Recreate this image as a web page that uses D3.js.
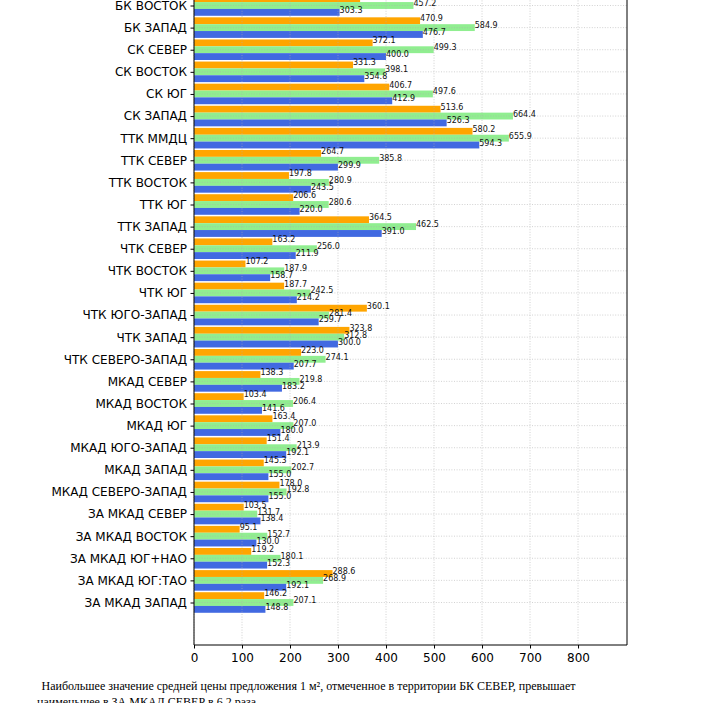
<!DOCTYPE html>
<html>
<head>
<meta charset="utf-8">
<script src="https://cdn.jsdelivr.net/npm/d3@7"></script>
<style>
body { margin: 0; background: #fff; }
svg { display: block; }
</style>
</head>
<body>
<svg width="705" height="703"></svg>
<script>
var svg = d3.select('svg');

var categories = [
	"БК ВОСТОК", "БК ЗАПАД", "СК СЕВЕР", "СК ВОСТОК", "СК ЮГ", "СК ЗАПАД",
	"ТТК ММДЦ", "ТТК СЕВЕР", "ТТК ВОСТОК", "ТТК ЮГ", "ТТК ЗАПАД",
	"ЧТК СЕВЕР", "ЧТК ВОСТОК", "ЧТК ЮГ", "ЧТК ЮГО-ЗАПАД", "ЧТК ЗАПАД", "ЧТК СЕВЕРО-ЗАПАД",
	"МКАД СЕВЕР", "МКАД ВОСТОК", "МКАД ЮГ", "МКАД ЮГО-ЗАПАД", "МКАД ЗАПАД", "МКАД СЕВЕРО-ЗАПАД",
	"ЗА МКАД СЕВЕР", "ЗА МКАД ВОСТОК", "ЗА МКАД ЮГ+НАО", "ЗА МКАД ЮГ:ТАО", "ЗА МКАД ЗАПАД"
]

// three series, drawn top to bottom inside each group
var seriesOrange = [346.0, 470.9, 372.1, 331.3, 406.7, 513.6, 580.2, 264.7, 197.8, 206.6, 364.5,
	163.2, 107.2, 187.7, 360.1, 323.8, 223.0, 138.3, 103.4, 163.4, 151.4, 145.3, 178.0,
	103.5, 95.1, 119.2, 288.6, 146.2]
var seriesGreen = [457.2, 584.9, 499.3, 398.1, 497.6, 664.4, 655.9, 385.8, 280.9, 280.6, 462.5,
	256.0, 187.9, 242.5, 281.4, 312.8, 274.1, 219.8, 206.4, 207.0, 213.9, 202.7, 192.8,
	131.7, 152.7, 180.1, 268.9, 207.1]
var seriesBlue = [303.3, 476.7, 400.0, 354.8, 412.9, 526.3, 594.3, 299.9, 243.5, 220.0, 391.0,
	211.9, 158.7, 214.2, 259.7, 300.0, 207.7, 183.2, 141.6, 180.0, 192.1, 155.0, 155.0,
	138.4, 130.0, 152.3, 192.1, 148.8]

var xTicks = [0, 100, 200, 300, 400, 500, 600, 700, 800]

var captionLines = [
	" Наибольшее значение средней цены предложения 1 м², отмеченное в территории БК СЕВЕР, превышает",
	"наименьшее в ЗА МКАД СЕВЕР в 6,2 раза."
]

var series = [
	{values: seriesOrange, color: "#FFA500", offset: -1},
	{values: seriesGreen, color: "#90EE90", offset: 0},
	{values: seriesBlue, color: "#4169E1", offset: 1}
]

var left = 194, right = 627, bottom = 645

var x = d3.scaleLinear().domain([0, 902]).range([left, right])
var y = d3.scalePoint().domain(categories).range([5.5, 602.5])
var barH = y.step() * 0.31

//Bars
var plot = svg.append('g')
series.forEach(function(s) {
	plot.selectAll(null)
		.data(s.values)
		.enter()
		.append('rect')
		.attr('x', x(0))
		.attr('y', function(d, i) { return y(categories[i]) + s.offset * barH - barH / 2 })
		.attr('width', function(d) { return x(d) - x(0) })
		.attr('height', barH)
		.attr('fill', s.color)
})

//Grid on top of bars, like matplotlib
var grid = svg.append('g')
	.attr('stroke', '#b0b0b0')
	.attr('stroke-width', 0.8)
	.attr('stroke-dasharray', '1,1.6')
	.attr('opacity', 0.7)
grid.selectAll(null)
	.data(xTicks)
	.enter()
	.append('line')
	.attr('x1', function(d) { return x(d) })
	.attr('x2', function(d) { return x(d) })
	.attr('y1', -10)
	.attr('y2', bottom)
grid.selectAll(null)
	.data(categories)
	.enter()
	.append('line')
	.attr('x1', left)
	.attr('x2', right)
	.attr('y1', function(d) { return y(d) })
	.attr('y2', function(d) { return y(d) })

//Value labels
series.forEach(function(s) {
	svg.append('g').selectAll(null)
		.data(s.values)
		.enter()
		.append('text')
		.attr('x', function(d) { return x(d) })
		.attr('y', function(d, i) { return y(categories[i]) + s.offset * barH + 0.5 })
		.attr('font-family', 'DejaVu Sans')
		.attr('font-size', 8)
		.attr('fill', '#111')
		.text(function(d) { return d.toFixed(1) })
})

//Axes
var xAxis = svg.append('g')
	.attr('transform', 'translate(0,' + bottom + ')')
	.call(d3.axisBottom(x).tickValues(xTicks).tickSize(3.5).tickPadding(4.5).tickFormat(d3.format('d')))
xAxis.select('.domain').remove()
xAxis.selectAll('text').attr('font-family', 'DejaVu Sans').attr('font-size', 12).attr('fill', '#000')

var yAxis = svg.append('g')
	.attr('transform', 'translate(' + left + ',0)')
	.call(d3.axisLeft(y).tickSize(3.5).tickPadding(3.5))
yAxis.select('.domain').remove()
yAxis.selectAll('text').attr('font-family', 'DejaVu Sans').attr('font-size', 12).attr('fill', '#000')

//Frame
var frame = svg.append('g').attr('stroke', '#000').attr('stroke-width', 1)
frame.append('line').attr('x1', left).attr('x2', left).attr('y1', -10).attr('y2', bottom)
frame.append('line').attr('x1', right).attr('x2', right).attr('y1', -10).attr('y2', bottom)
frame.append('line').attr('x1', left).attr('x2', right).attr('y1', bottom).attr('y2', bottom)

//Caption under the chart
svg.append('g').selectAll(null)
	.data(captionLines)
	.enter()
	.append('text')
	.attr('x', function(d, i) { return i == 0 ? 38.5 : 37 })
	.attr('y', function(d, i) { return 690 + i * 15.5 })
	.attr('font-family', 'Liberation Serif')
	.attr('font-size', 12)
	.attr('fill', '#000')
	.attr('xml:space', 'preserve')
	.style('white-space', 'pre')
	.text(function(d) { return d })
</script>
</body>
</html>
